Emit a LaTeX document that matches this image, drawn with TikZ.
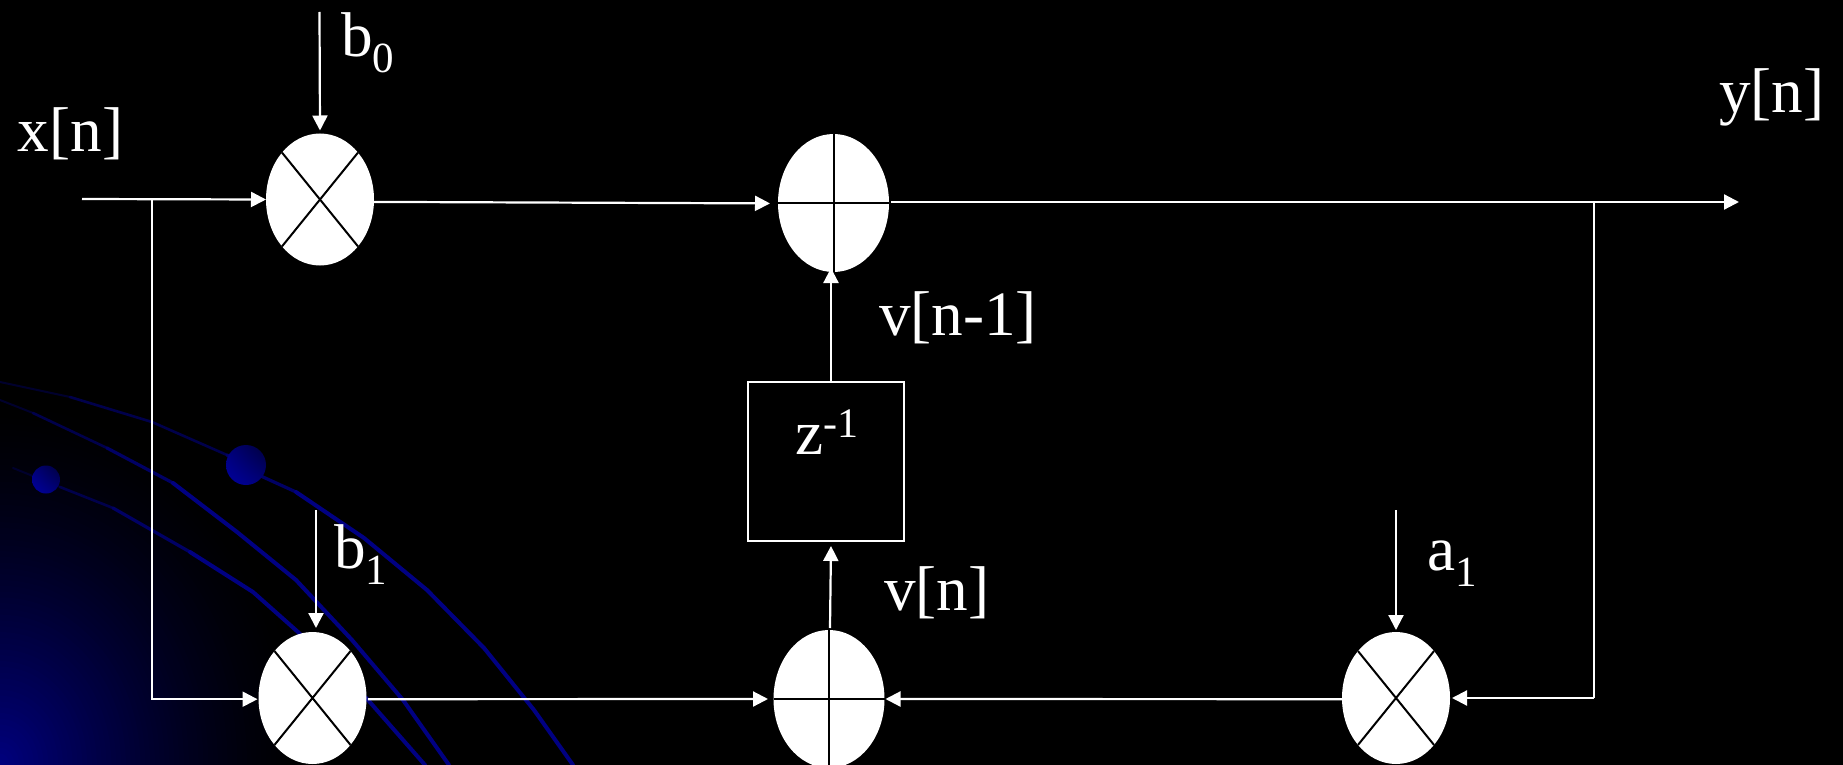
\documentclass[tikz,border=0pt]{standalone}
\usepackage{fontspec}
\setmainfont{Liberation Serif}
\usetikzlibrary{arrows.meta,shapes.geometric,shadings}
\definecolor{cornerblue}{RGB}{0,0,128}
\definecolor{toneA}{RGB}{0,0,45}
\definecolor{toneB}{RGB}{0,0,75}
\definecolor{toneC}{RGB}{0,0,100}
\definecolor{toneD}{RGB}{0,0,130}
\definecolor{dotlow}{RGB}{0,0,160}
\definecolor{dotmid}{RGB}{0,0,120}
\definecolor{dothigh}{RGB}{0,0,60}
\newcommand{\sbs}[1]{\raisebox{-8pt}{\fontsize{21.5}{22}\selectfont #1}}
\newcommand{\sps}[1]{\raisebox{8.5pt}{\fontsize{21}{22}\selectfont #1}}
\tikzset{
  wire/.style={draw=white,line width=1.1pt},
  arr/.style={wire,-{Triangle[length=7.5pt,width=7.5pt,fill=white]}},
  junction/.style={ellipse,fill=white,inner sep=0pt,outer sep=0pt},
  mult/.style={junction,minimum width=54pt,minimum height=66pt},
  adder/.style={junction,minimum width=55.5pt,minimum height=69pt},
  mark line/.style={draw=black,line width=1pt},
  lab/.style={text=white,anchor=base west,inner sep=0pt,outer sep=0pt,font=\fontsize{31.6}{32}\selectfont},
  delaybox/.style={draw=white,line width=1.1pt,minimum width=78pt,minimum height=79.5pt,inner sep=0pt,outer sep=0pt},
  arcA/.style={draw=toneA,line width=1pt,line cap=round,line join=round},
  arcB/.style={draw=toneB,line width=1.3pt,line cap=round,line join=round},
  arcC/.style={draw=toneC,line width=1.6pt,line cap=round,line join=round},
  arcD/.style={draw=toneD,line width=2pt,line cap=round,line join=round},
  ball/.style={lower left=dotlow,upper right=dothigh,upper left=dotmid,lower right=dotmid}
}
\begin{document}
\begin{tikzpicture}[x=0.5pt,y=-0.5pt]
\useasboundingbox (0,0) rectangle (1843,765);
\fill[black] (0,0) rectangle (1843,765);
\begin{scope}
\clip (0,0) rectangle (1843,765);
% corner glow
\foreach \i in {64,63,...,1}{
  \pgfmathsetmacro\tfrac{\i/64}
  \pgfmathsetmacro\pct{100*(1-\tfrac)^1.5}
  \fill[cornerblue!\pct!black] (0,765) ellipse ({310*\tfrac} and {370*\tfrac});
}
% decorative arcs
\draw[arcA] (0,382) -- (70,397);
\draw[arcB] (70,397) -- (152,422) -- (227,455);
\draw[arcC] (227,455) -- (263,477) -- (296,492);
\draw[arcD] (296,492) -- (364,538) -- (427,590) -- (484,648) -- (534,710) -- (573,765);
\draw[arcA] (0,400) -- (33,413);
\draw[arcB] (33,413) -- (107,448);
\draw[arcC] (107,448) -- (173,483);
\draw[arcD] (173,483) -- (237,532) -- (296,580) -- (352,640) -- (403,700) -- (449,765);
\draw[arcA] (13,468) -- (60,487);
\draw[arcB] (60,487) -- (113,508);
\draw[arcC] (113,508) -- (190,552);
\draw[arcD] (190,552) -- (253,592) -- (298,632) -- (368,700) -- (425,765);
\shade[ball] (246,465) circle (20);
\shade[ball] (46,479.5) circle (14);

% junctions
\node[mult]  (m0) at (320,199.5) {};
\node[adder] (a0) at (833.5,203) {};
\node[mult]  (m1) at (312.5,698) {};
\node[adder] (a1) at (829,699) {};
\node[mult]  (m2) at (1396,698) {};
\node[delaybox] (dl) at (826,461.5) {};
\draw[mark line] (m0.51) -- (m0.231) (m0.129) -- (m0.309);
\draw[mark line] (m1.51) -- (m1.231) (m1.129) -- (m1.309);
\draw[mark line] (m2.51) -- (m2.231) (m2.129) -- (m2.309);
\draw[mark line] (a0.north) -- (a0.south) (a0.west) -- (a0.east);
\draw[mark line] (a1.north) -- (a1.south) (a1.west) -- (a1.east);

% free ends
\coordinate (in) at (82,199);
\coordinate (split) at (152,199);
\coordinate (out) at (1739,202);
\coordinate (tap) at (1594,202);
\coordinate (b0s) at (319.5,12);
\coordinate (b1s) at (316,510);
\coordinate (a1s) at (1396,510);

% connectors
\draw[arr] (in) -- (m0.west);
\draw[arr] (split) |- ([xshift=-0.5pt,yshift=-0.6pt]m1.west);
\draw[arr] ([yshift=-1.2pt]m0.east) -- ([xshift=-4pt,yshift=-0.2pt]a0.west);
\draw[arr] ([xshift=1pt,yshift=0.5pt]a0.east) -- (out);
\draw[wire] (tap) -- (tap |- m2.east);
\draw[arr] (tap |- m2.east) -- ([xshift=1pt]m2.east);
\draw[arr] (b0s) -- ([yshift=1.5pt]m0.north);
\draw[arr] (b1s) -- ([yshift=2pt]b1s |- m1.north);
\draw[arr] (a1s) -- ([yshift=1pt]m2.north);
\draw[arr] ([xshift=0.7pt,yshift=-0.6pt]m1.east) -- ([xshift=-2.75pt]a1.west);
\draw[arr] ([yshift=-0.6pt]m2.west) -- ([xshift=0.5pt]a1.east);
\draw[arr] ([xshift=2.5pt]dl.north) -- ([xshift=-1.25pt,yshift=2pt]a0.south);
\draw[arr] ([xshift=0.5pt,yshift=1pt]a1.north) -- ([xshift=2.5pt,yshift=-2.5pt]dl.south);

% labels
\node[lab] (lx) at (18,152) {x[n]};
\node[lab] (ly) at (1719,113) {y[n]};
\node[lab] (lb0) at (341,57) {b\sbs{0}};
\node[lab] (lb1) at (334,568) {b\sbs{1}};
\node[lab] (la1) at (1427,570) {a\sbs{1}};
\node[lab] (lv1) at (879,335) {v[n-1]};
\node[lab] (lv0) at (884,610) {v[n]};
\node[lab] (lz) at (795,454) {z\sps{-1}};
\end{scope}
\end{tikzpicture}
\end{document}
